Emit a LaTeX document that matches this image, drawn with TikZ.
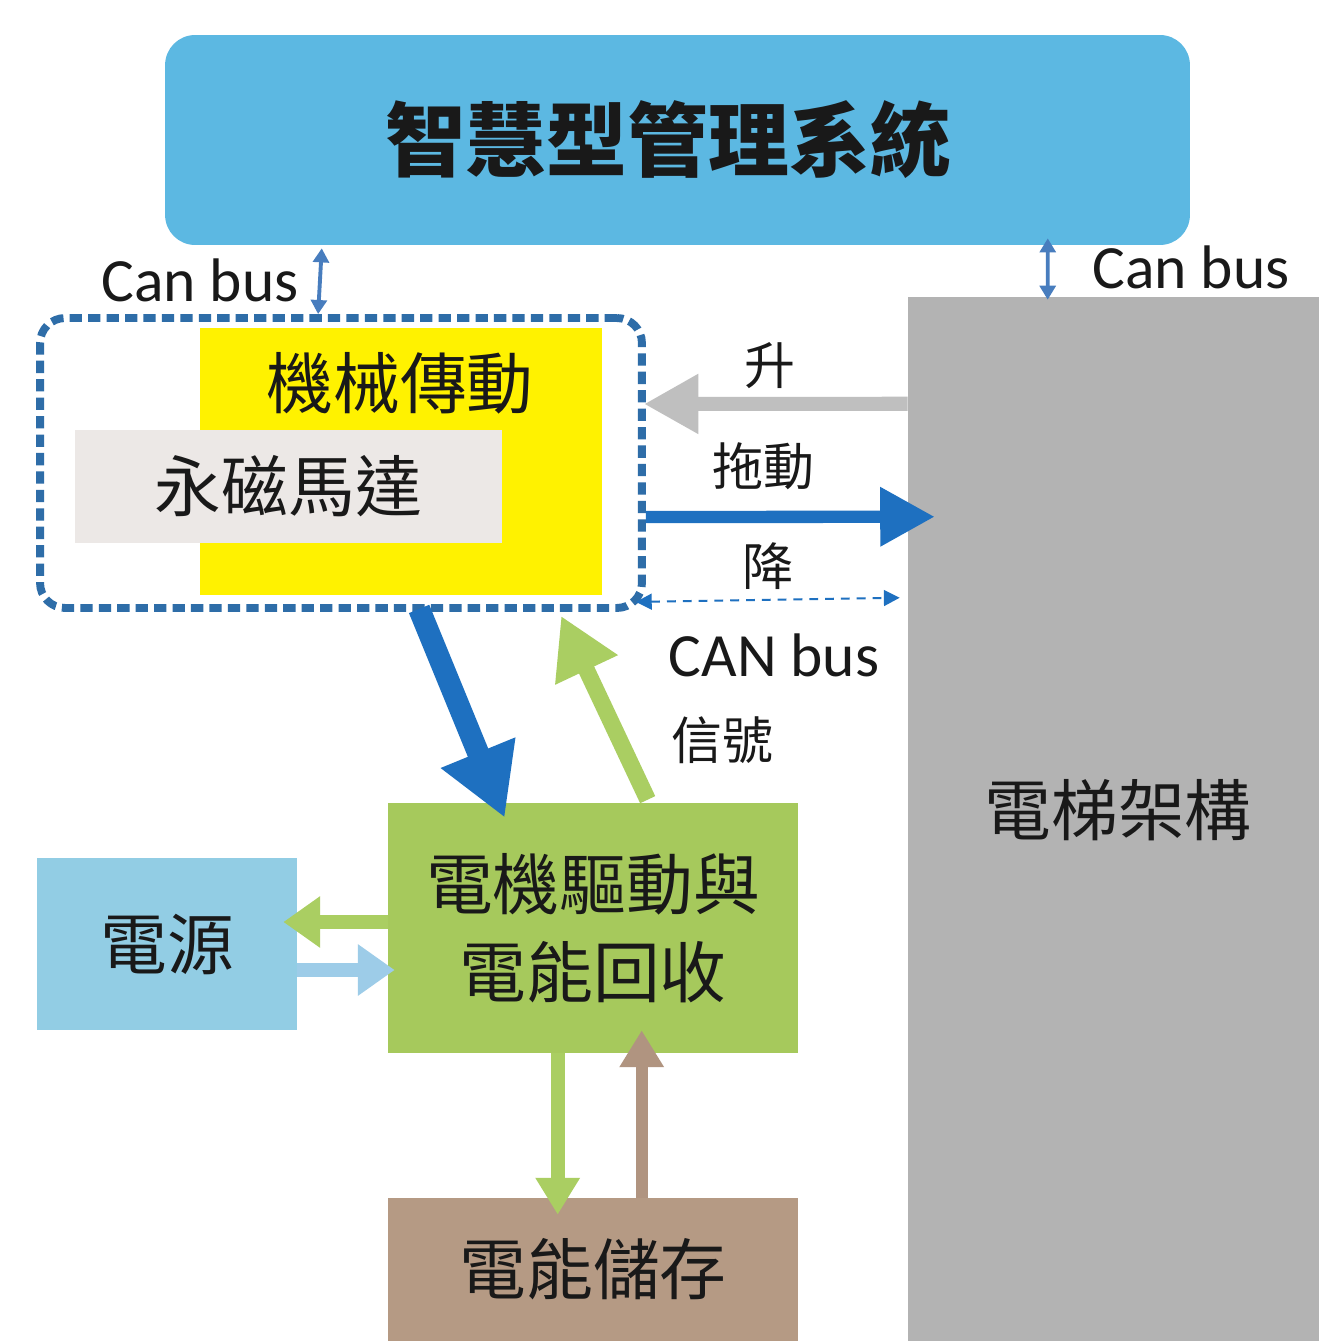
\documentclass[tikz,border=0pt]{standalone}
\usepackage{fontspec}
\setmainfont{Carlito}
\newfontfamily\cjk{Noto Sans CJK TC}
\usetikzlibrary{arrows.meta,calc}
\definecolor{topblue}{RGB}{92,184,226}
\definecolor{elgray}{RGB}{179,179,179}
\definecolor{yel}{RGB}{255,242,0}
\definecolor{motorgray}{RGB}{236,232,230}
\definecolor{greenbox}{RGB}{166,201,92}
\definecolor{powerblue}{RGB}{146,205,228}
\definecolor{brownbox}{RGB}{181,154,132}
\definecolor{dashblue}{RGB}{46,109,168}
\definecolor{arrowblue}{RGB}{30,112,192}
\definecolor{arrowgray}{RGB}{191,191,191}
\definecolor{arrowgreen}{RGB}{170,206,98}
\definecolor{arrowlblue}{RGB}{157,204,232}
\definecolor{arrowbrown}{RGB}{176,148,128}
\definecolor{smallblue}{RGB}{72,125,190}
\definecolor{txt}{RGB}{25,25,25}
\tikzset{
  boxnode/.style={draw=none, inner sep=0pt, text=txt, font=\cjk\fontsize{38}{50}\selectfont, align=center},
  bigtxt/.style={inner sep=0pt, text=txt, font=\cjk\fontsize{38}{50}\selectfont},
  lbl/.style={inner sep=0pt, text=txt, font=\cjk\fontsize{29}{31}\selectfont},
  canlbl/.style={inner sep=0pt, text=txt, font=\fontsize{35}{38}\selectfont},
  smallarrow/.style={draw=smallblue, line width=2.2pt, {Triangle[length=8pt,width=9pt]}-{Triangle[length=8pt,width=9pt]}}
}
\begin{document}
\begin{tikzpicture}[x=0.02cm,y=-0.02cm]
\useasboundingbox[fill=white] (0,0) rectangle (1319,1341);

% top management system
\node[boxnode, fill=topblue, rounded corners=0.6cm, minimum width=20.5cm, minimum height=4.2cm] (top) at (677.5,140) {};
\node[inner sep=0pt, text=txt, font=\cjk\bfseries\fontsize{46}{48}\selectfont] (toptxt) at (668,140) {智慧型管理系統};

% elevator frame
\node[boxnode, fill=elgray, minimum width=8.22cm, minimum height=20.88cm] (frame) at (1113.5,819) {};
\node[bigtxt] (frametxt) at (1118,810) {電梯架構};

% mechanical group
\node[boxnode, fill=yel, minimum width=8.04cm, minimum height=5.34cm] (mechbox) at (401,461.5) {};
\node[bigtxt] (mech) at (400,383) {機械傳動};
\node[boxnode, fill=motorgray, minimum width=8.54cm, minimum height=2.26cm] (motor) at (288.5,486.5) {永磁馬達};
\node[draw=dashblue, line width=4.5pt, dash pattern=on 7pt off 3.5pt, rounded corners=0.5cm,
      inner sep=0pt, minimum width=12.04cm, minimum height=5.8cm] (grp) at (341,463) {};

% drive / power / storage
\node[boxnode, fill=greenbox, minimum width=8.2cm, minimum height=5cm] (drive) at (593,928) {電機驅動與\\電能回收};
\node[boxnode, fill=powerblue, minimum width=5.2cm, minimum height=3.44cm] (power) at (167,944) {電源};
\node[boxnode, fill=brownbox, minimum width=8.2cm, minimum height=2.86cm] (store) at (593,1269.5) {電能儲存};

% labels
\node[canlbl] (canl) at (200,280) {Can bus};
\node[canlbl] (canr) at (1191,267) {Can bus};
\node[canlbl] (canm) at (774,655) {CAN bus};
\node[lbl] (sig) at (722,740) {信號};
\node[lbl] (up) at (770,366) {升};
\node[lbl] (drag) at (763,466) {拖動};
\node[lbl] (down) at (768,566) {降};

% arrows between frame and mechanical group
\draw[arrowgray, line width=8pt, -{Triangle[length=31pt,width=32pt]}]
  ($(frame.north west)+(0,107)$) -- ($(grp.east)+(-2,-59)$);
\draw[arrowblue, line width=7pt, -{Triangle[length=31pt,width=32pt]}]
  ($(grp.east)+(0,54)$) -- ($(frame.north west)+(27,220)$);
\draw[arrowblue, line width=1.2pt, dash pattern=on 5pt off 4pt,
      {Triangle[length=9pt,width=9pt]}-{Triangle[length=9pt,width=9pt]}]
  ($(grp.south east)+(-10,-10)$) -- ($(frame.north west)+(-8,301)$);

% can bus small arrows
\draw[smallarrow] ($(top.south west)+(157,3)$) -- ($(grp.north west)+(282,0)$);
\draw[smallarrow] ($(top.south west)+(883,-7)$) -- ($(frame.north west)+(140,3)$);

% group <-> drive
\draw[arrowblue, line width=12.5pt, -{Triangle[length=40pt,width=43pt]}]
  ($(grp.south west)+(383,-3)$) -- ($(drive.north west)+(117,15)$);
\draw[arrowgreen, line width=9.5pt, -{Triangle[length=34pt,width=37pt]}]
  ($(drive.north west)+(260,-3)$) -- ($(grp.south west)+(525,4)$);

% power <-> drive
\draw[arrowgreen, line width=8pt, -{Triangle[length=21pt,width=28pt]}]
  ($(drive.west)+(0,-6)$) -- ($(power.east)+(-14,-22)$);
\draw[arrowlblue, line width=8pt, -{Triangle[length=21pt,width=28pt]}]
  ($(power.east)+(0,26)$) -- ($(drive.west)+(7,42)$);

% drive <-> storage
\draw[arrowgreen, line width=8pt, -{Triangle[length=21pt,width=24pt]}]
  ($(drive.south west)+(170,0)$) -- ($(store.north west)+(170,17)$);
\draw[arrowbrown, line width=7pt, -{Triangle[length=21pt,width=24pt]}]
  ($(store.north west)+(254,0)$) -- ($(drive.south west)+(254,-23)$);
\end{tikzpicture}
\end{document}
